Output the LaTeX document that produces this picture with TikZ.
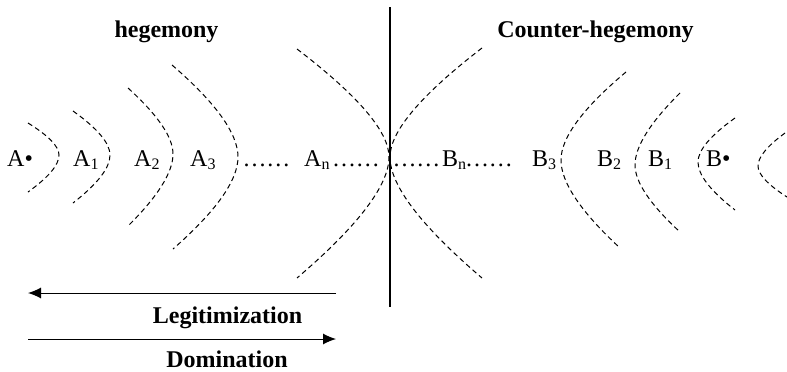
\documentclass[tikz,border=0pt]{standalone}
\usepackage{fontspec}
\setmainfont{Liberation Serif}
\usetikzlibrary{arrows.meta,calc}
\newcommand\mysub[1]{\raisebox{-3pt}{\fontsize{16}{16}\selectfont #1}}
% #1 top end, #2 tip, #3 bottom end, #4 fraction of bend
\newcommand\myarc[4]{%
  \coordinate (P1) at ($(#2)!#4!(#2|-#1)$);
  \coordinate (P2) at ($(#2)!#4!(#2|-#3)$);
  \draw[arc] (#1) .. controls ($(#1)!0.6667!(P1)$) and ($(#2)!0.6667!(P1)$) .. (#2)
    .. controls ($(#2)!0.6667!(P2)$) and ($(#3)!0.6667!(P2)$) .. (#3);}
\begin{document}
\begin{tikzpicture}[x=1pt,y=-1pt,
  lbl/.style={inner sep=0pt,anchor=base west,font=\fontsize{24}{28}\selectfont},
  ttl/.style={inner sep=0pt,anchor=base,font=\fontsize{24}{28}\selectfont\bfseries},
  dts/.style={inner sep=0pt,anchor=base,font=\fontsize{24}{28}\selectfont\addfontfeature{LetterSpace=8}},
  arc/.style={line width=1pt,dash pattern=on 5pt off 3.5pt},
  arr/.style={line width=1pt,-{Latex[length=13pt,width=11pt]}}]
\useasboundingbox (0,0) rectangle (787,372);
% titles
\node[ttl] (th) at (166.5,37) {hegemony};
\node[ttl] (tc) at (595.5,37) {Counter-hegemony};
% vertical divider
\coordinate (vt) at (390,7);
\coordinate (vb) at (390,307);
\draw[line width=1.2pt] (vt) -- (vb);
% A-side arcs (convex to the right)
\myarc{28,123}{59,155}{28,192}{0.4}
\myarc{73,111}{110,155}{73,203}{0.4}
\myarc{128,88}{173,154}{128,226}{0.38}
\myarc{172,65}{238,157}{173,249}{0.38}
\myarc{297,49}{389,157}{297,278}{0.35}
% B-side arcs (convex to the left)
\myarc{482,48}{390,157}{482,278}{0.35}
\myarc{626,72}{561,160}{620,248}{0.38}
\myarc{680,93}{635,165}{680,232}{0.38}
\myarc{735,118}{698,162}{735,210}{0.4}
\myarc{785,133}{758,166}{787,197}{0.4}
% labels
\node[lbl] (a0) at (7,166) {A•};
\node[lbl] (a1) at (73,166) {A\mysub{1}};
\node[lbl] (a2) at (134,166) {A\mysub{2}};
\node[lbl] (a3) at (190,166) {A\mysub{3}};
\node[dts] (d1) at (266.5,166) {......};
\node[lbl] (an) at (304,166) {A\mysub{n}};
\node[dts] (d2) at (356,166) {......};
\node[dts] (d3) at (416.5,166) {......};
\node[lbl] (bn) at (442,166) {B\mysub{n}};
\node[dts] (d4) at (489,166) {......};
\node[lbl] (b3) at (532,166) {B\mysub{3}};
\node[lbl] (b2) at (597,166) {B\mysub{2}};
\node[lbl] (b1) at (648,166) {B\mysub{1}};
\node[lbl] (b0) at (706,166) {B•};
% arrows
\coordinate (l1) at (336,293);
\coordinate (l2) at (28,293);
\draw[arr] (l1) -- (l2);
\node[ttl] (leg) at (227.5,323) {Legitimization};
\coordinate (d1s) at (28,339);
\coordinate (d1e) at (336,339);
\draw[arr] (d1s) -- (d1e);
\node[ttl] (dom) at (227,367) {Domination};
\end{tikzpicture}
\end{document}
